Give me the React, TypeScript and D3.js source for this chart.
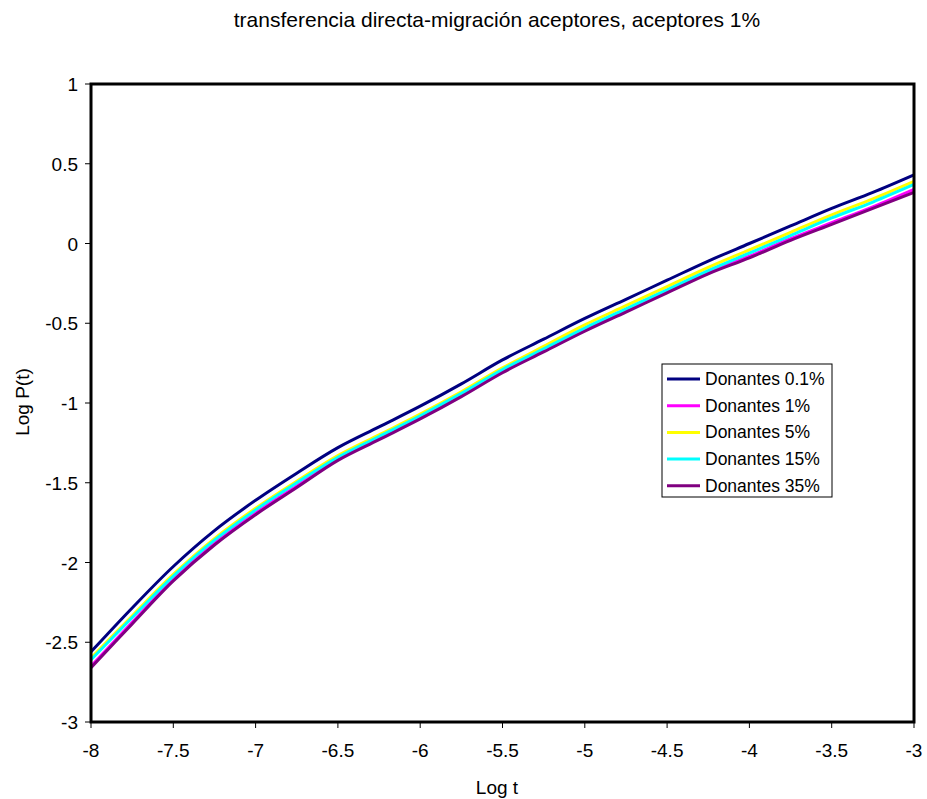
import React from "react";
import * as d3 from "d3";

const title = "transferencia directa-migración aceptores, aceptores 1%";
const xLabel = "Log t";
const yLabel = "Log P(t)";

const logT = [-8, -7.75, -7.5, -7.25, -7, -6.75, -6.5, -6.25, -6, -5.75, -5.5, -5.25, -5, -4.75, -4.5, -4.25, -4, -3.75, -3.5, -3.25, -3];

const don01 = [-2.56, -2.285, -2.025, -1.8, -1.61, -1.44, -1.28, -1.15, -1.02, -0.88, -0.73, -0.6, -0.47, -0.35, -0.23, -0.11, 0.0, 0.11, 0.22, 0.32, 0.43];
const don1 = [-2.65, -2.375, -2.105, -1.88, -1.69, -1.52, -1.35, -1.22, -1.09, -0.95, -0.8, -0.67, -0.54, -0.42, -0.3, -0.18, -0.08, 0.03, 0.13, 0.23, 0.34];
const don5 = [-2.6, -2.335, -2.075, -1.85, -1.66, -1.49, -1.33, -1.2, -1.07, -0.93, -0.78, -0.645, -0.51, -0.39, -0.27, -0.15, -0.04, 0.07, 0.18, 0.28, 0.39];
const don15 = [-2.61, -2.345, -2.085, -1.86, -1.67, -1.5, -1.34, -1.21, -1.08, -0.94, -0.79, -0.66, -0.53, -0.41, -0.29, -0.17, -0.06, 0.05, 0.16, 0.26, 0.37];
const don35 = [-2.66, -2.385, -2.115, -1.89, -1.7, -1.53, -1.36, -1.23, -1.1, -0.96, -0.81, -0.68, -0.55, -0.43, -0.31, -0.19, -0.09, 0.02, 0.12, 0.22, 0.32];

const seriesNames = ["Donantes 0.1%", "Donantes 1%", "Donantes 5%", "Donantes 15%", "Donantes 35%"];
const seriesValues = [don01, don1, don5, don15, don35];
const seriesColors = ["#000080", "#FF00FF", "#FFFF00", "#00FFFF", "#800080"];

const xTicks = [-8, -7.5, -7, -6.5, -6, -5.5, -5, -4.5, -4, -3.5, -3];
const yTicks = [1, 0.5, 0, -0.5, -1, -1.5, -2, -2.5, -3];

const W = 927;
const H = 799;
const plot = { left: 91, right: 914, top: 84, bottom: 722 };
const FONT = "'Liberation Sans', Arial, sans-serif";

export default function App() {
  const x = d3.scaleLinear().domain([-8, -3]).range([plot.left, plot.right]);
  const y = d3.scaleLinear().domain([-3, 1]).range([plot.bottom, plot.top]);
  const line = d3
    .line<number>()
    .x((_, i) => x(logT[i]))
    .y((d) => y(d))
    .curve(d3.curveCatmullRom.alpha(0.5));

  const legend = { x: 662, y: 364, w: 170, h: 133 };
  const rowH = 26.7;

  return (
    <svg
      width={W}
      height={H}
      viewBox={`0 0 ${W} ${H}`}
      style={{ position: "absolute", left: 0, top: 0, background: "#fff" }}
      fontFamily={FONT}
    >
      <rect x={0} y={0} width={W} height={H} fill="#fff" />
      <text x={497} y={27} textAnchor="middle" fontSize={21} fill="#000">
        {title}
      </text>

      <defs>
        <clipPath id="plotclip">
          <rect x={plot.left} y={plot.top} width={plot.right - plot.left} height={plot.bottom - plot.top} />
        </clipPath>
      </defs>

      <g clipPath="url(#plotclip)">
        {seriesValues.map((vals, i) => (
          <path key={i} d={line(vals) || ""} fill="none" stroke={seriesColors[i]} strokeWidth={3} />
        ))}
      </g>

      <rect
        x={plot.left}
        y={plot.top}
        width={plot.right - plot.left}
        height={plot.bottom - plot.top}
        fill="none"
        stroke="#000"
        strokeWidth={3}
      />

      {yTicks.map((t) => (
        <g key={"y" + t}>
          <line x1={plot.left - 6} x2={plot.left} y1={y(t)} y2={y(t)} stroke="#000" strokeWidth={1} />
          <text x={78} y={y(t) + 7} textAnchor="end" fontSize={19} fill="#000">
            {String(t)}
          </text>
        </g>
      ))}

      {xTicks.map((t) => (
        <g key={"x" + t}>
          <line x1={x(t)} x2={x(t)} y1={plot.bottom} y2={plot.bottom + 6} stroke="#000" strokeWidth={1} />
          <text x={x(t)} y={757} textAnchor="middle" fontSize={19} fill="#000">
            {String(t)}
          </text>
        </g>
      ))}

      <text x={497} y={794} textAnchor="middle" fontSize={19} fill="#000">
        {xLabel}
      </text>
      <text transform={`translate(29, 402) rotate(-90)`} textAnchor="middle" fontSize={19} fill="#000">
        {yLabel}
      </text>

      <g>
        <rect x={legend.x} y={legend.y} width={legend.w} height={legend.h} fill="#fff" stroke="#000" strokeWidth={1} />
        {seriesNames.map((name, i) => {
          const cy = legend.y + 15 + i * rowH;
          return (
            <g key={name}>
              <line x1={legend.x + 5} x2={legend.x + 38} y1={cy} y2={cy} stroke={seriesColors[i]} strokeWidth={3} />
              <text x={legend.x + 43} y={cy + 6} fontSize={17.5} fill="#000">
                {name}
              </text>
            </g>
          );
        })}
      </g>
    </svg>
  );
}
